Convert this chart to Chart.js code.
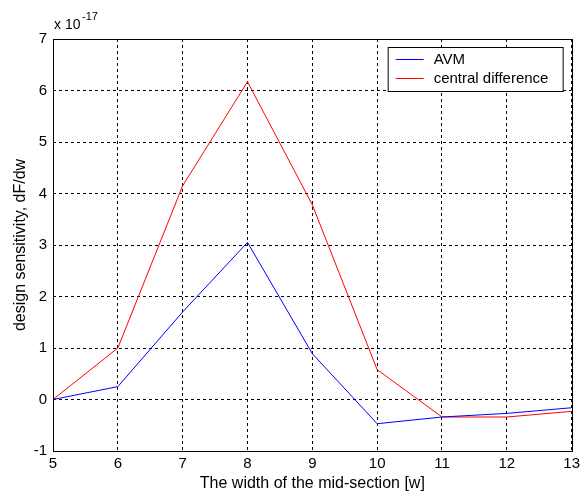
<!DOCTYPE html>
<html>
<head>
<meta charset="utf-8">
<script src="https://cdn.jsdelivr.net/npm/chart.js"></script>
<style>
  html, body { margin: 0; padding: 0; background: #fff; }
  #wrap { width: 584px; height: 494px; }
</style>
</head>
<body>
<div id="wrap"><canvas id="chart"></canvas></div>
<script>
// width of the mid-section
const widths = [5, 6, 7, 8, 9, 10, 11, 12, 13];
// design sensitivity (x 1e-17)
const avm = [0, 0.25, 1.7, 3.05, 0.89, -0.47, -0.34, -0.27, -0.16];
const central = [0, 1.0, 4.15, 6.17, 3.78, 0.58, -0.34, -0.34, -0.23];
const seriesLabels = ['AVM', 'central difference'];
const exponentLabel = '-17';

const FONT = '"Liberation Sans", Arial, sans-serif';

// frame, exponent and legend like the matlab figure
const matlabPlugin = {
    id: 'matlab',
    afterDraw(chart) {
        const ctx = chart.ctx;
        const a = chart.chartArea;
        ctx.save();
        ctx.strokeStyle = '#000';
        ctx.lineWidth = 1;
        ctx.setLineDash([]);
        ctx.strokeRect(Math.round(a.left) + 0.5, Math.round(a.top) + 0.5,
            Math.round(a.right - a.left), Math.round(a.bottom - a.top));

        // exponent
        ctx.fillStyle = '#000';
        ctx.textBaseline = 'middle';
        ctx.textAlign = 'left';
        ctx.font = '14px ' + FONT;
        ctx.fillText('x 10', a.left + 1, a.top - 14);
        ctx.font = '11px ' + FONT;
        ctx.fillText(exponentLabel, a.left + 29, a.top - 22);

        // legend
        const bx = a.right - 184, by = a.top + 8, bw = 175, bh = 44;
        ctx.fillStyle = '#fff';
        ctx.fillRect(bx, by, bw, bh);
        ctx.strokeRect(bx + 0.5, by + 0.5, bw, bh);
        ctx.font = '15px ' + FONT;
        chart.data.datasets.forEach((ds, i) => {
            const y = by + 12 + i * 19;
            ctx.strokeStyle = ds.borderColor;
            ctx.beginPath();
            ctx.moveTo(bx + 8, y + 0.5);
            ctx.lineTo(bx + 36, y + 0.5);
            ctx.stroke();
            ctx.fillStyle = '#000';
            ctx.fillText(ds.label, bx + 46, y + 1);
        });
        ctx.restore();
    }
};

const gridStyle = {
    color: '#000',
    lineWidth: 1,
    drawTicks: false
};

new Chart(document.getElementById('chart'), {
    type: 'line',
    data: {
        datasets: [
            {
                label: seriesLabels[0],
                data: widths.map((w, i) => ({ x: w, y: avm[i] })),
                borderColor: '#0000ff',
                borderWidth: 1,
                pointRadius: 0,
                tension: 0
            },
            {
                label: seriesLabels[1],
                data: widths.map((w, i) => ({ x: w, y: central[i] })),
                borderColor: '#ff0000',
                borderWidth: 1,
                pointRadius: 0,
                tension: 0
            }
        ]
    },
    options: {
        responsive: true,
        maintainAspectRatio: false,
        animation: false,
        layout: { padding: { top: 39, right: 9, left: 0, bottom: 0 } },
        plugins: {
            legend: { display: false },
            tooltip: { enabled: false }
        },
        scales: {
            x: {
                type: 'linear',
                min: 5,
                max: 13,
                ticks: { stepSize: 1, color: '#000', padding: 4, font: { family: FONT, size: 15 } },
                grid: gridStyle,
                border: { display: false, dash: [3, 3] },
                title: {
                    display: true,
                    text: 'The width of the mid-section [w]',
                    color: '#000',
                    font: { family: FONT, size: 16 },
                    padding: { top: 0, bottom: 1 }
                },
                afterFit(scale) { scale.height = 43; }
            },
            y: {
                min: -1,
                max: 7,
                ticks: { stepSize: 1, color: '#000', padding: 6, font: { family: FONT, size: 15 } },
                grid: gridStyle,
                border: { display: false, dash: [3, 3] },
                title: {
                    display: true,
                    text: 'design sensitivity, dF/dw',
                    color: '#000',
                    font: { family: FONT, size: 16 },
                    padding: { top: 11, bottom: 0 }
                },
                afterFit(scale) { scale.width = 53; }
            }
        }
    },
    plugins: [matlabPlugin]
});
</script>
</body>
</html>
